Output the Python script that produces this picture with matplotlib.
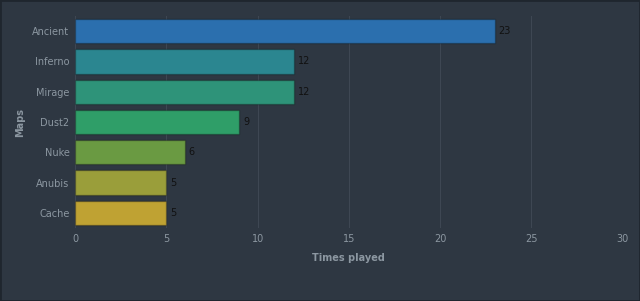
# Times played per map, horizontal bars on a dark background
import matplotlib.pyplot as plt

maps = ['Ancient', 'Inferno', 'Mirage', 'Dust2', 'Nuke', 'Anubis', 'Cache']
times_played = [23, 12, 12, 9, 6, 5, 5]
colors = ['#2b6fae', '#2b8690', '#2e9379', '#2f9e68', '#6a9a42', '#9a9e3a', '#bfa233']

bg = '#2e3742'
text_grey = '#8c97a1'

fig = plt.figure(figsize=(6.4, 3.01), dpi=100, facecolor=bg)
ax = fig.add_axes([0.1172, 0.2425, 0.8558, 0.7043])
ax.set_facecolor(bg)

y = list(range(len(maps)))
bars = ax.barh(y, times_played, height=0.8, color=colors, linewidth=1)
for bar in bars:
    bar.set_edgecolor((0, 0, 0, 0.25))

for yi, v in zip(y, times_played):
    ax.text(v + 0.2, yi, str(v), va='center', ha='left', fontsize=7, color='#111111')

ax.set_yticks(y)
ax.set_yticklabels(maps)
ax.set_ylim(len(maps) - 0.5, -0.5)
ax.set_xlim(0, 30)
ax.set_xticks([0, 5, 10, 15, 20, 25, 30])

ax.grid(axis='x', color='#3e4753', linewidth=0.8)
ax.set_axisbelow(True)
for s in ax.spines.values():
    s.set_visible(False)
ax.tick_params(length=0, colors=text_grey, labelsize=7, pad=4)

ax.set_xlabel('Times played', color=text_grey, fontsize=7, fontweight='bold', labelpad=7)
ax.set_ylabel('Maps', color=text_grey, fontsize=7, fontweight='bold', labelpad=5)

fig.patches.append(plt.Rectangle((0, 0), 1, 1, transform=fig.transFigure,
                                 fill=False, edgecolor='#1f262e', linewidth=2))

fig.savefig('out.png', dpi=100, facecolor=bg)
